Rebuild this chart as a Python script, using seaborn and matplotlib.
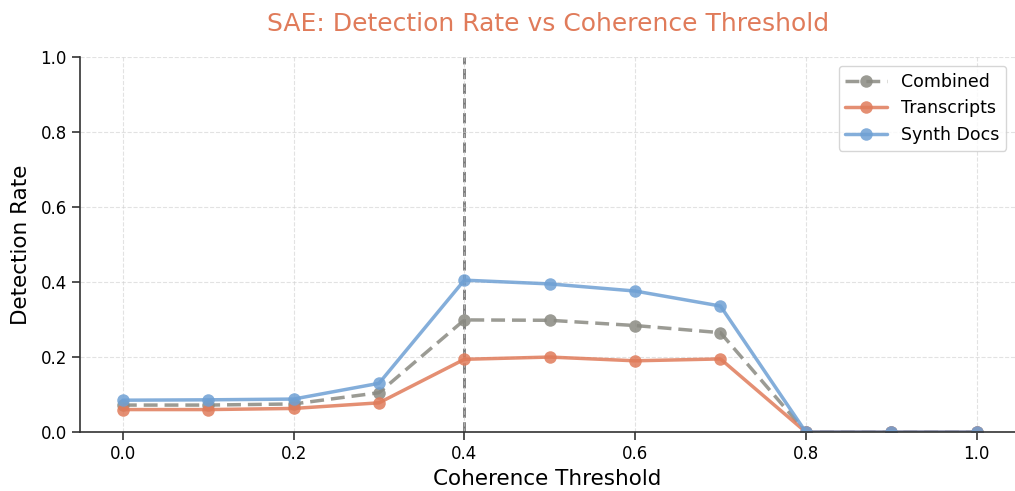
import pandas as pd
import matplotlib
matplotlib.use('Agg')
import matplotlib.pyplot as plt
import seaborn as sns

thresholds = [0.0, 0.1, 0.2, 0.3, 0.4, 0.5, 0.6, 0.7, 0.8, 0.9, 1.0]
combined = [0.072, 0.072, 0.075, 0.105, 0.299, 0.298, 0.284, 0.265, 0.0, 0.0, 0.0]
transcripts = [0.060, 0.060, 0.063, 0.078, 0.194, 0.200, 0.190, 0.195, 0.0, 0.0, 0.0]
synth_docs = [0.085, 0.086, 0.088, 0.130, 0.405, 0.395, 0.376, 0.336, 0.0, 0.0, 0.0]

series = {
    'Combined': (combined, '#8a8a82', (4, 2)),
    'Transcripts': (transcripts, '#e07b5a', ''),
    'Synth Docs': (synth_docs, '#6fa0d4', ''),
}

sns.set_style('white', {'axes.edgecolor': '#333333', 'text.color': 'black',
                        'axes.labelcolor': 'black', 'xtick.color': '#333333',
                        'ytick.color': '#333333'})
plt.rcParams['xtick.labelcolor'] = 'black'
plt.rcParams['ytick.labelcolor'] = 'black'
fig, ax = plt.subplots(figsize=(10.15, 4.91), dpi=100)

for name, (vals, col, dash) in series.items():
    df = pd.DataFrame({'x': thresholds, 'y': vals})
    sns.lineplot(data=df, x='x', y='y', ax=ax, color=col, marker='o',
                 markersize=9, markeredgewidth=0, linewidth=2.5,
                 alpha=0.85, label=name)
    if dash:
        ax.lines[-1].set_dashes(dash)

ax.axvline(0.4, color='#777777', linestyle='--', linewidth=2, zorder=0)

ax.set_ylim(0, 1.0)
ax.set_xlim(-0.05, 1.045)
ax.set_yticks([0, 0.2, 0.4, 0.6, 0.8, 1.0])
ax.set_xticks([0, 0.2, 0.4, 0.6, 0.8, 1.0])
ax.grid(True, linestyle='--', alpha=0.6, color='#d0d0d0')
ax.tick_params(axis='both', labelsize=12, length=6, width=1.2, left=True, bottom=True)
for s in ax.spines.values():
    s.set_linewidth(1.2)
sns.despine(ax=ax)

ax.set_xlabel('Coherence Threshold', fontsize=15.5)
ax.set_ylabel('Detection Rate', fontsize=15.5, labelpad=7)
ax.set_title('SAE: Detection Rate vs Coherence Threshold', fontsize=18,
             color='#e07b5a', pad=19)
ax.legend(loc='upper right', fontsize=12.5, frameon=True, handlelength=2.4)

fig.subplots_adjust(left=0.079, right=1.0, top=0.884, bottom=0.12)
fig.savefig('out.png', dpi=100)
